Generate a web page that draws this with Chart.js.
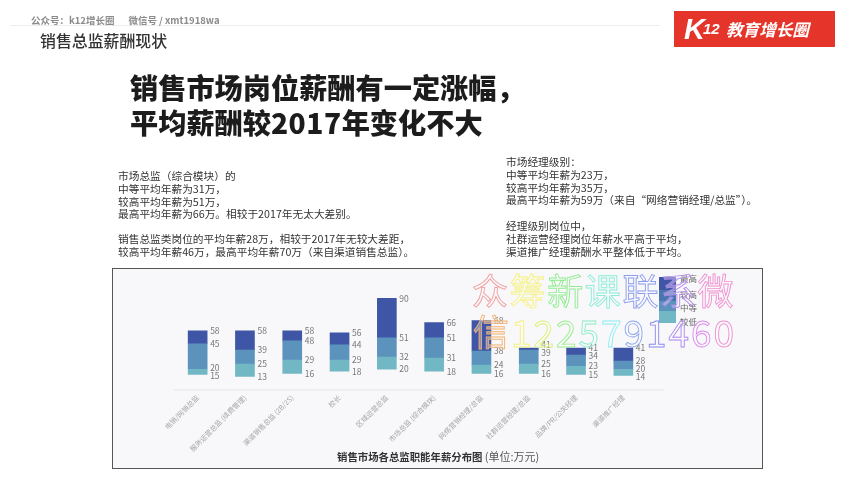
<!DOCTYPE html>
<html>
<head>
<meta charset="utf-8">
<script src="https://cdn.jsdelivr.net/npm/chart.js@4"></script>
<style>
html, body { margin: 0; padding: 0; background: #fff; }
body { width: 850px; height: 478px; position: relative; overflow: hidden; font-family: "Noto Sans CJK SC", sans-serif; color: #333; }
.abs { position: absolute; white-space: pre; }
#page { position: absolute; left: 0; top: 0; width: 850px; height: 478px; filter: blur(0.45px); }
#topline { left: 10px; top: 25px; width: 650px; height: 1px; background: #eee; }
#account { left: 31px; top: 13px; font-size: 9.5px; line-height: 14px; color: #8c8c8c; font-weight: 700; }
#account span { margin-left: 14px; }
#heading { left: 40px; top: 30px; font-size: 15.9px; line-height: 22px; color: #333; font-weight: 500; }
#logo { left: 674px; top: 11px; width: 161px; height: 36px; background: #e5352b; color: #fff; }
#logo .k { position: absolute; left: 10px; top: 2px; font: italic 700 29px/32px "Liberation Sans"; }
#logo .n { position: absolute; left: 29px; top: 9px; font: italic 700 15px/18px "Liberation Sans"; }
#logo .t { position: absolute; left: 52px; top: 7px; font-size: 16.6px; line-height: 22px; font-weight: 700; font-style: italic; }
#title { left: 130px; top: 69px; font-size: 28.2px; line-height: 35px; font-weight: 900; color: #1c1c1c; }
#title span { letter-spacing: 0.5px; }
.note { font-size: 10.7px; line-height: 12.8px; color: #333; }
#note1 { left: 118px; top: 170px; }
#note2 { left: 118px; top: 233px; }
#note3 { left: 506px; top: 156px; }
#note4 { left: 506px; top: 220px; }
#panel { position: absolute; left: 112px; top: 268px; width: 649px; height: 199px; border: 1px solid #555; background: #f8f8fa; }
#chart-box { position: absolute; left: 112px; top: 268px; width: 651px; height: 201px; }
#caption { left: 337px; top: 449px; font-size: 10.4px; line-height: 14px; font-weight: 700; color: #333; }
#caption span { font-weight: 400; font-size: 11px; color: #555; }
.swatch { position: absolute; left: 659px; width: 17px; }
.leg { position: absolute; left: 680px; font-size: 8.5px; line-height: 12px; color: #666; white-space: pre; }
#mark { position: absolute; left: 0; top: 0; }
</style>
</head>
<body>
<div id="page">
  <div class="abs" id="topline"></div>
  <div class="abs" id="account">公众号：k12增长圈<span>微信号 / xmt1918wa</span></div>
  <div class="abs" id="heading">销售总监薪酬现状</div>
  <div class="abs" id="logo"><span class="k">K</span><span class="n">12</span><span class="t">教育增长圈</span></div>
  <div class="abs" id="title">销售市场岗位薪酬有一定涨幅，
平均薪酬较<span>2017</span>年变化不大</div>
  <div class="abs note" id="note1">市场总监（综合模块）的
中等平均年薪为31万，
较高平均年薪为51万，
最高平均年薪为66万。相较于2017年无太大差别。</div>
  <div class="abs note" id="note2">销售总监类岗位的平均年薪28万，相较于2017年无较大差距，
较高平均年薪46万，最高平均年薪70万（来自渠道销售总监）。</div>
  <div class="abs note" id="note3">市场经理级别：
中等平均年薪为23万，
较高平均年薪为35万，
最高平均年薪为59万（来自“网络营销经理/总监”）。</div>
  <div class="abs note" id="note4">经理级别岗位中，
社群运营经理岗位年薪水平高于平均，
渠道推广经理薪酬水平整体低于平均。</div>
  <div id="panel"></div>
  <div id="chart-box"><canvas id="salaryChart" width="651" height="201"></canvas></div>
  <div class="abs" id="caption">销售市场各总监职能年薪分布图 <span>(单位:万元)</span></div>
  <div class="swatch" style="top:277px;height:13px;background:#3f56a6"></div>
  <div class="swatch" style="top:290px;height:11px;background:#4a76b0"></div>
  <div class="swatch" style="top:301px;height:10px;background:#5c93bd"></div>
  <div class="swatch" style="top:311px;height:12px;background:#72b8c4"></div>
  <div class="leg" style="top:272px">最高</div>
  <div class="leg" style="top:288px">较高</div>
  <div class="leg" style="top:301px">中等</div>
  <div class="leg" style="top:315px">较低</div>
</div>
<svg id="mark" width="850" height="478"></svg>
<script>
const categories = ['电销/网销总监', '服务运营总监 (续费管理)', '渠道销售总监 (2B/2S)', '校长', '区域运营总监', '市场总监 (综合模块)', '网络营销经理/总监', '社群运营经理/总监', '品牌/PR/公关经理', '渠道推广经理'];
const lowest = [15, 13, 16, 18, 20, 18, 16, 16, 15, 14];
const medium = [20, 25, 29, 29, 32, 31, 24, 25, 23, 20];
const higher = [45, 39, 48, 44, 51, 51, 38, 39, 34, 28];
const highest = [58, 58, 58, 56, 90, 66, 68, 41, 41, 41];
const markChars = ['众', '筹', '新', '课', '联', '系', '微'];
const markDigits = ['1', '2', '2', '5', '7', '9', '1', '4', '6', '0'];

function band(from, to) {
    return categories.map((name, i) => [from[i], to[i]]);
}

// value labels sit right of each bar, pushed apart when they would touch
const valueLabels = {
    id: 'valueLabels',
    afterDatasetsDraw(chart) {
        const { ctx, scales, chartArea } = chart;
        ctx.save();
        // the axis line runs on a little past the last bar
        ctx.strokeStyle = '#e6e6e6';
        ctx.beginPath();
        ctx.moveTo(chartArea.left, chartArea.bottom + 0.5);
        ctx.lineTo(chartArea.right + 17, chartArea.bottom + 0.5);
        ctx.stroke();

        ctx.font = '8.5px "Noto Sans CJK SC"';
        ctx.fillStyle = '#777';
        ctx.textBaseline = 'middle';
        categories.forEach((name, i) => {
            const x = scales.x.getPixelForValue(i) + 12.5;
            const ys = [highest, higher, medium, lowest].map(s => scales.y.getPixelForValue(s[i]));
            for (let k = 1; k < ys.length; k++) {
                const gap = ys[k] - ys[k - 1];
                if (gap < 8) {
                    ys[k - 1] -= (8 - gap) / 2;
                    ys[k] += (8 - gap) / 2;
                }
            }
            [highest, higher, medium, lowest].forEach((s, k) => ctx.fillText(s[i], x, ys[k]));
        });
        ctx.restore();
    }
};

new Chart(document.getElementById('salaryChart').getContext('2d'), {
    type: 'bar',
    data: {
        labels: categories,
        datasets: [
            { label: '较低', data: band(lowest, medium), backgroundColor: '#72b8c4' },
            { label: '中等', data: band(medium, higher), backgroundColor: '#5c93bd' },
            { label: '较高', data: band(higher, highest), backgroundColor: '#3f56a6' }
        ]
    },
    options: {
        responsive: false,
        animation: false,
        layout: { padding: { left: 62, right: 116, top: 0, bottom: 0 } },
        plugins: { legend: { display: false }, tooltip: { enabled: false } },
        datasets: { bar: { barThickness: 19 } },
        scales: {
            x: {
                stacked: true,
                afterFit: scale => { scale.height = 79.5; },
                grid: { display: false, drawTicks: false },
                border: { display: false },
                ticks: { color: '#a6a6a6', font: { size: 7, family: '"Noto Sans CJK SC"' }, minRotation: 45, maxRotation: 45, autoSkip: false, padding: 4 }
            },
            y: {
                min: 0,
                max: 120,
                display: false
            }
        }
    },
    plugins: [valueLabels]
});

// rainbow outlined overlay text
const svg = document.getElementById('mark');
function addMark(text, x, y, size, color) {
    const node = document.createElementNS('http://www.w3.org/2000/svg', 'text');
    node.textContent = text;
    node.setAttribute('x', x);
    node.setAttribute('y', y);
    node.setAttribute('font-size', size);
    node.setAttribute('font-family', '"Noto Sans CJK SC"');
    node.setAttribute('fill', 'rgba(255,255,255,0.35)');
    node.setAttribute('stroke', color);
    node.setAttribute('stroke-width', '0.9');
    svg.appendChild(node);
}
const markColors = ['#f0a0a0', '#f5f07a', '#8fec8f', '#8fecd8', '#8a9cec', '#b48aec', '#f08fd0'];
markChars.forEach((c, i) => addMark(c, 472 + i * 37.6, 305, 36, markColors[i]));
addMark('信', 473, 346, 36, '#f2b070');
const digitColors = ['#f5f07a', '#dcf07a', '#9cec8f', '#8fecc8', '#8fecf0', '#8fa8ec', '#8a8aec', '#ae8aec', '#dc8aec', '#f08fd0'];
markDigits.forEach((c, i) => addMark(c, 511 + i * 22.5, 347, 37, digitColors[i]));
</script>
</body>
</html>
